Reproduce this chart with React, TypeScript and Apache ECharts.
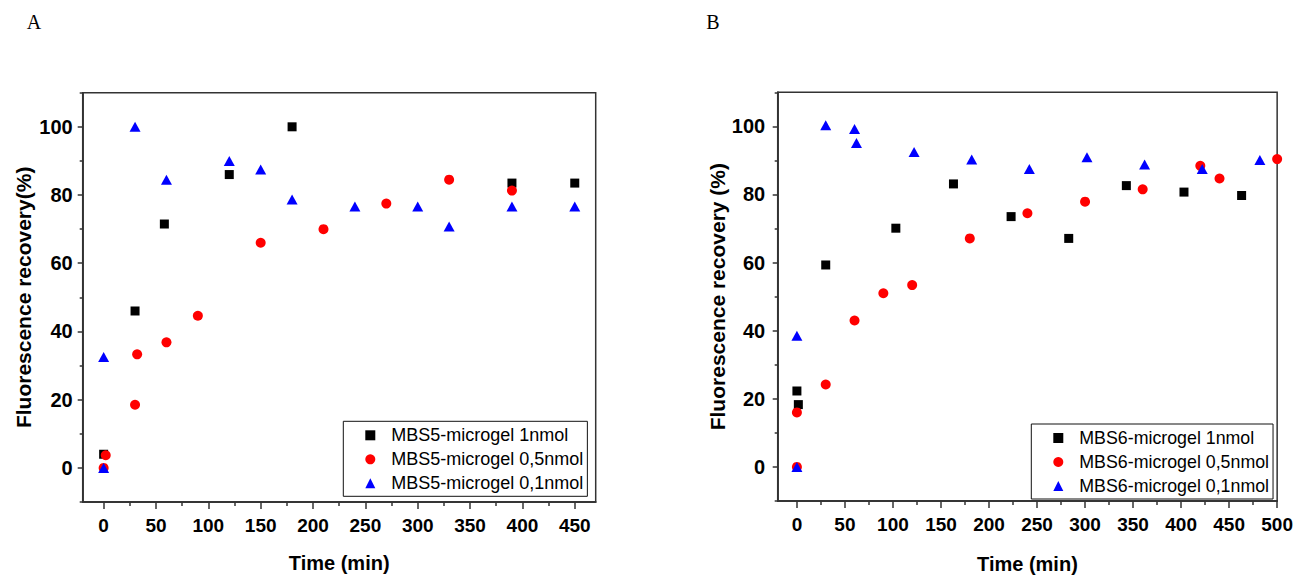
import React, { useEffect, useRef } from "react";
import * as echarts from "echarts";

// ---- tick labels ----
const xTicksA = [0, 50, 100, 150, 200, 250, 300, 350, 400, 450];
const xMinorA = [25, 75, 125, 175, 225, 275, 325, 375, 425];
const xTicksB = [0, 50, 100, 150, 200, 250, 300, 350, 400, 450, 500];
const xMinorB = [25, 75, 125, 175, 225, 275, 325, 375, 425, 475];
const yTicks = [0, 20, 40, 60, 80, 100];
const yMinor = [-10, 10, 30, 50, 70, 90, 110];

// ---- legend names ----
const namesA = ["MBS5-microgel 1nmol", "MBS5-microgel 0,5nmol", "MBS5-microgel 0,1nmol"];
const namesB = ["MBS6-microgel 1nmol", "MBS6-microgel 0,5nmol", "MBS6-microgel 0,1nmol"];

// ---- panel A data ----
const a1Time = [0, 30, 58, 120, 180, 390, 450];
const a1Value = [4, 46, 71.5, 86, 100, 83.5, 83.5];
const a05Time = [0, 2, 30, 32, 60, 90, 150, 210, 270, 330, 390];
const a05Value = [0, 3.7, 18.5, 33.3, 36.8, 44.6, 66, 70, 77.5, 84.5, 81.3];
const a01Time = [0, 0, 30, 60, 120, 150, 180, 240, 300, 330, 390, 450];
const a01Value = [0, 32.5, 100, 84.5, 90, 87.5, 78.7, 76.6, 76.6, 70.8, 76.6, 76.6];

// ---- panel B data ----
const b1Time = [0, 1.5, 30, 103, 163, 223, 283, 343, 403, 463];
const b1Value = [22.3, 18.3, 59.3, 70.1, 83.1, 73.5, 67.1, 82.6, 80.7, 79.7];
const b05Time = [0, 0, 30, 60, 90, 120, 180, 240, 300, 360, 420, 440, 500];
const b05Value = [0, 16, 24.2, 43, 51, 53.4, 67.1, 74.5, 77.9, 81.5, 88.4, 84.7, 90.4];
const b01Time = [0, 0, 30, 60, 62, 122, 182, 242, 302, 362, 422, 482];
const b01Value = [0, 38.5, 100.3, 99.2, 95.1, 92.5, 90.3, 87.5, 90.9, 88.8, 87.5, 90.1];

const zip = (xs: number[], ys: number[]) => xs.map((x, i) => [x, ys[i]]);

const SANS = "Liberation Sans, Arial, sans-serif";
const AX = "#333";

function minorX(grid: number, min: number, max: number, vals: number[]) {
  return {
    type: "value", gridIndex: grid, min, max, position: "bottom",
    axisLine: { show: true, onZero: false, lineStyle: { color: AX, width: 1.5 } },
    axisTick: { show: true, inside: false, length: 4, customValues: vals, lineStyle: { color: AX, width: 1.5 } },
    axisLabel: { show: false }, splitLine: { show: false },
  };
}
function majorX(grid: number, min: number, max: number, vals: number[], gap: number) {
  return {
    type: "value", gridIndex: grid, min, max, position: "bottom",
    name: "Time (min)", nameLocation: "middle", nameGap: gap,
    nameTextStyle: { fontFamily: SANS, fontSize: 20, fontWeight: "bold", color: "#000" },
    axisLine: { show: true, onZero: false, lineStyle: { color: AX, width: 1.5 } },
    axisTick: { show: true, inside: false, length: 7, customValues: vals, lineStyle: { color: AX, width: 1.5 } },
    axisLabel: { show: true, customValues: vals, margin: 14, fontFamily: SANS, fontSize: 19, fontWeight: "bold", color: "#000" },
    splitLine: { show: false },
  };
}
function minorY(grid: number) {
  return {
    type: "value", gridIndex: grid, min: -10, max: 110, position: "left",
    axisLine: { show: true, onZero: false, lineStyle: { color: AX, width: 1.5 } },
    axisTick: { show: true, inside: false, length: 3, customValues: yMinor, lineStyle: { color: AX, width: 1.5 } },
    axisLabel: { show: false }, splitLine: { show: false },
  };
}
function majorY(grid: number, name: string, margin: number) {
  return {
    type: "value", gridIndex: grid, min: -10, max: 110, position: "left",
    name, nameLocation: "middle", nameGap: 49,
    nameTextStyle: { fontFamily: SANS, fontSize: 21, fontWeight: "bold", color: "#000" },
    axisLine: { show: true, onZero: false, lineStyle: { color: AX, width: 1.5 } },
    axisTick: { show: true, inside: false, length: 5, customValues: yTicks, lineStyle: { color: AX, width: 1.5 } },
    axisLabel: { show: true, customValues: yTicks, margin, fontFamily: SANS, fontSize: 20, fontWeight: "bold", color: "#000" },
    splitLine: { show: false },
  };
}
function legend(names: string[], left: number, top: number, fontSize: number) {
  return {
    show: true, orient: "vertical", align: "left", left, top,
    data: names, selectedMode: false,
    padding: [5, 4, 4, 22], itemGap: 6, itemWidth: 10, itemHeight: 10,
    borderColor: "#111", borderWidth: 1, backgroundColor: "#fff",
    textStyle: { fontFamily: SANS, fontSize, lineHeight: 18, color: "#000", padding: [0, 0, 0, 11] },
  };
}
function sc(name: string, xi: number, yi: number, symbol: string, size: any, color: string, data: number[][]) {
  return {
    type: "scatter", name, xAxisIndex: xi, yAxisIndex: yi, symbol, symbolSize: size,
    itemStyle: { color, opacity: 1 }, data,
  };
}

export default function App() {
  const ref = useRef<HTMLDivElement>(null);
  useEffect(() => {
    if (!ref.current) return;
    const chart = echarts.init(ref.current, undefined, { renderer: "svg" });
    chart.setOption({
      animation: false,
      backgroundColor: "#fff",
      grid: [
        { left: 82.7, top: 92.7, width: 513, height: 409.3, show: true, borderColor: AX, borderWidth: 1.5, backgroundColor: "transparent" },
        { left: 777.7, top: 92.3, width: 500, height: 413.4, show: true, borderColor: AX, borderWidth: 1.5, backgroundColor: "transparent" },
      ],
      xAxis: [
        minorX(0, -20, 470, xMinorA),
        majorX(0, -20, 470, xTicksA, 51),
        minorX(1, -20, 500, xMinorB),
        majorX(1, -20, 500, xTicksB, 53),
      ],
      yAxis: [
        minorY(0),
        majorY(0, "Fluorescence recovery(%)", 10),
        minorY(1),
        majorY(1, "Fluorescence recovery (%)", 12.5),
      ],
      legend: [
        legend(namesA, 343.3, 421.3, 18),
        legend(namesB, 1031.3, 424, 17.8),
      ],
      graphic: [
        { type: "text", x: 34, y: 22, style: { text: "A", fontFamily: "Liberation Serif, Times New Roman, serif", fontSize: 20, fill: "#000", align: "center", verticalAlign: "middle" } },
        { type: "text", x: 713, y: 22, style: { text: "B", fontFamily: "Liberation Serif, Times New Roman, serif", fontSize: 20, fill: "#000", align: "center", verticalAlign: "middle" } },
      ],
      series: [
        sc(namesA[0], 1, 1, "rect", 9, "#000000", zip(a1Time, a1Value)),
        sc(namesA[1], 1, 1, "circle", 10, "#ff0000", zip(a05Time, a05Value)),
        sc(namesA[2], 1, 1, "triangle", [11, 10], "#0000ff", zip(a01Time, a01Value)),
        sc(namesB[0], 3, 3, "rect", 9, "#000000", zip(b1Time, b1Value)),
        sc(namesB[1], 3, 3, "circle", 10, "#ff0000", zip(b05Time, b05Value)),
        sc(namesB[2], 3, 3, "triangle", [11, 10], "#0000ff", zip(b01Time, b01Value)),
      ],
    });
    return () => chart.dispose();
  }, []);
  return <div ref={ref} style={{ position: "absolute", left: 0, top: 0, width: 1296, height: 579 }} />;
}
